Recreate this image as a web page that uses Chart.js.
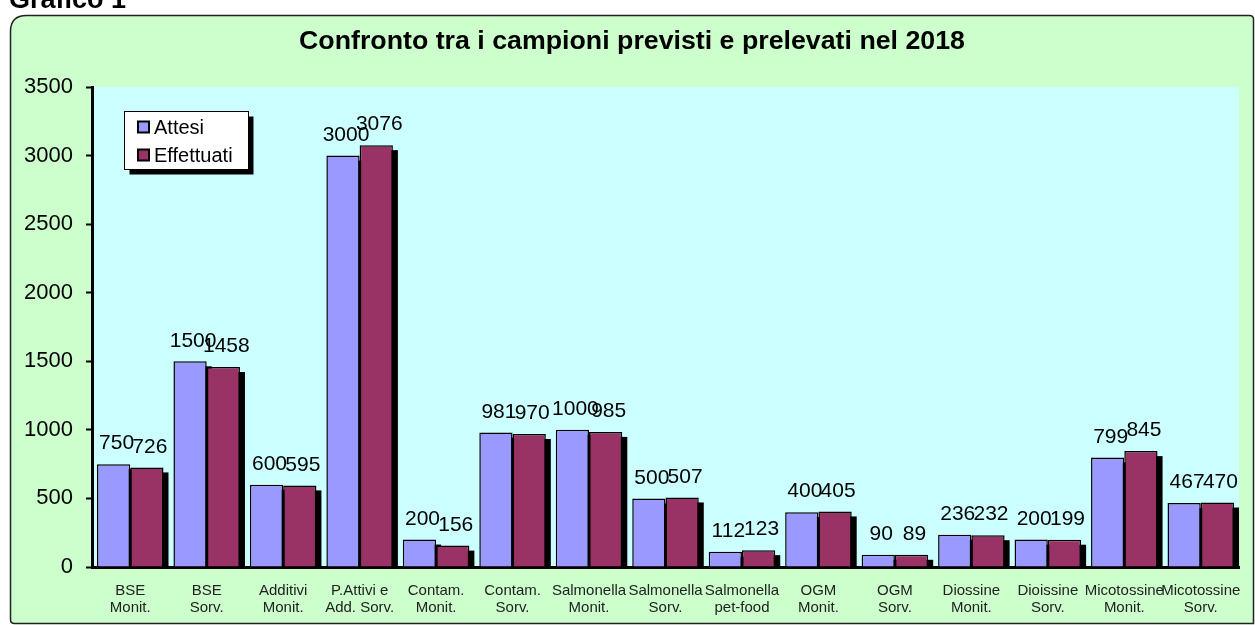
<!DOCTYPE html>
<html>
<head>
<meta charset="utf-8">
<script src="https://cdn.jsdelivr.net/npm/chart.js@4.4.1/dist/chart.umd.min.js"></script>
<style>
  html, body { margin: 0; padding: 0; background: #ffffff; }
  #wrap { width: 1255px; height: 625px; position: relative; }
</style>
</head>
<body>
<div id="wrap"><canvas id="c" width="1255" height="625"></canvas></div>
<script>
const categories = [
  ["BSE", "Monit."], ["BSE", "Sorv."], ["Additivi", "Monit."], ["P.Attivi e", "Add. Sorv."],
  ["Contam.", "Monit."], ["Contam.", "Sorv."], ["Salmonella", "Monit."], ["Salmonella", "Sorv."],
  ["Salmonella", "pet-food"], ["OGM", "Monit."], ["OGM", "Sorv."], ["Diossine", "Monit."],
  ["Dioissine", "Sorv."], ["Micotossine", "Monit."], ["Micotossine", "Sorv."]
];
const attesi = [750, 1500, 600, 3000, 200, 981, 1000, 500, 112, 400, 90, 236, 200, 799, 467];
const effettuati = [726, 1458, 595, 3076, 156, 970, 985, 507, 123, 405, 89, 232, 199, 845, 470];
const seriesNames = ["Attesi", "Effettuati"];
const chartTitle = "Confronto tra i campioni previsti e prelevati nel 2018";
const captionText = "Grafico 1";
const yTicks = [0, 500, 1000, 1500, 2000, 2500, 3000, 3500];

const FONT = "'Liberation Sans', Arial, sans-serif";

const backgroundPlugin = {
  id: 'bg',
  beforeDraw(chart) {
    const ctx = chart.ctx;
    const a = chart.chartArea;
    ctx.save();
    ctx.fillStyle = '#ffffff';
    ctx.fillRect(0, 0, chart.width, chart.height);
    // caption
    ctx.fillStyle = '#000000';
    ctx.font = "bold 27px " + FONT;
    ctx.textBaseline = 'alphabetic';
    ctx.textAlign = 'left';
    ctx.fillText(captionText, 9, 8);
    // green rounded box
    const x0 = 10.5, y0 = 15.5, x1 = 1253.5, y1 = 623.5, r = 16;
    ctx.beginPath();
    ctx.moveTo(x0 + r, y0);
    ctx.lineTo(x1 - 4, y0);
    ctx.quadraticCurveTo(x1, y0, x1, y0 + 4);
    ctx.lineTo(x1, y1);
    ctx.lineTo(x0 + 4, y1);
    ctx.quadraticCurveTo(x0, y1, x0, y1 - 4);
    ctx.lineTo(x0, y0 + r);
    ctx.quadraticCurveTo(x0, y0, x0 + r, y0);
    ctx.closePath();
    ctx.fillStyle = '#CCFFCC';
    ctx.fill();
    ctx.lineWidth = 1.5;
    ctx.strokeStyle = '#222222';
    ctx.stroke();
    // plot area
    ctx.fillStyle = '#CCFFFF';
    ctx.fillRect(a.left, a.top, a.right - a.left, a.bottom - a.top);
    // title (slightly widened like the original)
    ctx.save();
    ctx.translate(632, 42);
    ctx.scale(1.07, 1);
    ctx.fillStyle = '#000000';
    ctx.font = "bold 25px " + FONT;
    ctx.textAlign = 'center';
    ctx.textBaseline = 'middle';
    ctx.fillText(chartTitle, 0, 0);
    ctx.restore();
    ctx.restore();
  }
};

const shadowPlugin = {
  id: 'shadows',
  beforeDatasetsDraw(chart) {
    const ctx = chart.ctx;
    const a = chart.chartArea;
    ctx.save();
    ctx.fillStyle = '#000000';
    chart.data.datasets.forEach((ds, i) => {
      const meta = chart.getDatasetMeta(i);
      meta.data.forEach(el => {
        const w = el.width;
        const top = el.y + 5;
        const bottom = a.bottom;
        if (bottom > top) ctx.fillRect(el.x - w / 2 + 5, top, w, bottom - top);
      });
    });
    ctx.restore();
  }
};

const labelPlugin = {
  id: 'valueLabels',
  afterDatasetsDraw(chart) {
    const ctx = chart.ctx;
    ctx.save();
    ctx.fillStyle = '#000000';
    ctx.font = "21px " + FONT;
    ctx.textAlign = 'center';
    ctx.textBaseline = 'bottom';
    chart.data.datasets.forEach((ds, i) => {
      const meta = chart.getDatasetMeta(i);
      meta.data.forEach((el, j) => {
        ctx.fillText(String(ds.data[j]), el.x + 3, el.y - 10);
      });
    });
    ctx.restore();
  }
};

const legendPlugin = {
  id: 'boxLegend',
  afterDraw(chart) {
    const ctx = chart.ctx;
    const bx = 124.5, by = 111.5, bw = 124, bh = 58;
    ctx.save();
    ctx.fillStyle = '#000000';
    ctx.fillRect(bx + 5, by + 5, bw, bh);
    ctx.fillStyle = '#ffffff';
    ctx.fillRect(bx, by, bw, bh);
    ctx.strokeStyle = '#000000';
    ctx.lineWidth = 1;
    ctx.strokeRect(bx, by, bw, bh);
    ctx.font = "20px " + FONT;
    ctx.textAlign = 'left';
    ctx.textBaseline = 'middle';
    chart.data.datasets.forEach((ds, i) => {
      const cy = 127 + i * 28;
      ctx.fillStyle = ds.backgroundColor;
      ctx.fillRect(138, cy - 5.5, 11, 11);
      ctx.lineWidth = 2;
      ctx.strokeStyle = '#000000';
      ctx.strokeRect(138, cy - 5.5, 11, 11);
      ctx.fillStyle = '#000000';
      ctx.fillText(ds.label, 154, cy + 1);
    });
    ctx.restore();
  }
};

new Chart(document.getElementById('c'), {
  type: 'bar',
  data: {
    labels: categories,
    datasets: [
      { label: seriesNames[0], data: attesi, backgroundColor: '#9999FF', borderColor: '#000000', borderWidth: 1.5 },
      { label: seriesNames[1], data: effettuati, backgroundColor: '#993366', borderColor: '#000000', borderWidth: 1.5 }
    ]
  },
  options: {
    responsive: false,
    devicePixelRatio: 1,
    animation: false,
    events: [],
    layout: { padding: { left: 10, top: 87, right: 16, bottom: 0 } },
    datasets: { bar: { categoryPercentage: 0.87, barPercentage: 1.0 } },
    plugins: {
      legend: { display: false },
      title: { display: false },
      tooltip: { enabled: false }
    },
    scales: {
      x: {
        grid: { display: false },
        border: { display: true, color: '#000000', width: 3 },
        ticks: {
          autoSkip: false, maxRotation: 0, minRotation: 0,
          color: '#222222', padding: 7,
          font: { family: FONT, size: 15, lineHeight: 1.15 }
        },
        afterFit(scale) { scale.height = 58; }
      },
      y: {
        min: 0, max: 3500,
        afterBuildTicks(scale) { scale.ticks = yTicks.map(v => ({ value: v })); },
        grid: { drawOnChartArea: false, drawTicks: true, tickLength: 6, tickWidth: 2, color: '#000000' },
        border: { display: true, color: '#000000', width: 3 },
        ticks: {
          color: '#000000', padding: 13, font: { family: FONT, size: 22 },
          callback: (v) => String(v)
        },
        afterFit(scale) { scale.width = 82; }
      }
    }
  },
  plugins: [backgroundPlugin, shadowPlugin, labelPlugin, legendPlugin]
});
</script>
</body>
</html>
